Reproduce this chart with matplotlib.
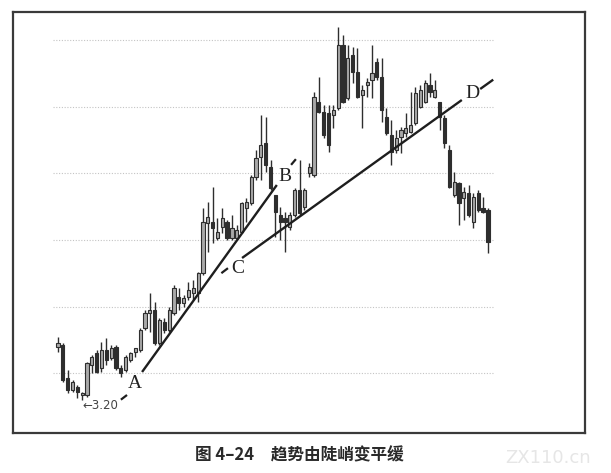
import matplotlib
matplotlib.use("Agg")
import matplotlib.pyplot as plt
from matplotlib.patches import Rectangle

# ---- data ----
opens = [3.52, 3.53, 3.33, 3.26, 3.28, 3.23, 3.23, 3.41, 3.48, 3.39,
         3.50, 3.45, 3.52, 3.39, 3.38, 3.44, 3.49, 3.50, 3.63, 3.72,
         3.74, 3.54, 3.67, 3.62, 3.72, 3.82, 3.78, 3.82, 3.84, 3.84,
         3.96, 4.26, 4.27, 4.17, 4.24, 4.27, 4.17, 4.17, 4.21, 4.35,
         4.38, 4.54, 4.66, 4.74, 4.60, 4.43, 4.31, 4.29, 4.24, 4.31,
         4.46, 4.36, 4.56, 4.55, 4.99, 4.93, 4.92, 4.91, 4.95, 5.33,
         5.01, 5.27, 5.17, 5.03, 5.09, 5.12, 5.23, 5.14, 4.90, 4.79,
         4.70, 4.78, 4.80, 4.81, 4.86, 4.96, 4.99, 5.09, 5.02, 4.99,
         4.89, 4.70, 4.43, 4.50, 4.41, 4.44, 4.27, 4.44, 4.35, 4.34]
highs = [3.58, 3.54, 3.38, 3.32, 3.29, 3.25, 3.43, 3.47, 3.50, 3.55,
         3.57, 3.53, 3.53, 3.41, 3.47, 3.49, 3.51, 3.63, 3.74, 3.84,
         3.79, 3.69, 3.69, 3.76, 3.89, 3.87, 3.83, 3.91, 3.92, 3.97,
         4.35, 4.39, 4.48, 4.29, 4.35, 4.28, 4.31, 4.25, 4.39, 4.41,
         4.55, 4.70, 4.91, 4.90, 4.64, 4.43, 4.36, 4.33, 4.33, 4.47,
         4.64, 4.47, 4.62, 5.05, 5.14, 4.97, 4.97, 4.97, 5.44, 5.39,
         5.33, 5.32, 5.31, 5.09, 5.13, 5.33, 5.25, 5.25, 4.95, 4.88,
         4.82, 4.84, 4.92, 5.05, 5.08, 5.09, 5.12, 5.16, 5.12, 4.99,
         4.91, 4.73, 4.57, 4.51, 4.48, 4.49, 4.44, 4.46, 4.42, 4.35]
lows = [3.49, 3.31, 3.24, 3.25, 3.21, 3.20, 3.22, 3.36, 3.36, 3.37,
        3.41, 3.44, 3.38, 3.34, 3.37, 3.43, 3.46, 3.49, 3.62, 3.61,
        3.53, 3.53, 3.60, 3.61, 3.71, 3.74, 3.76, 3.80, 3.80, 3.79,
        3.95, 4.09, 4.14, 4.16, 4.20, 4.16, 4.16, 4.16, 4.20, 4.27,
        4.37, 4.52, 4.52, 4.57, 4.46, 4.18, 4.16, 4.09, 4.22, 4.30,
        4.31, 4.34, 4.54, 4.54, 4.92, 4.77, 4.69, 4.83, 4.94, 4.98,
        5.00, 5.10, 5.01, 4.83, 5.02, 5.01, 5.12, 4.87, 4.79, 4.61,
        4.68, 4.68, 4.78, 4.80, 4.85, 4.95, 4.98, 5.02, 5.01, 4.82,
        4.71, 4.47, 4.42, 4.25, 4.28, 4.30, 4.23, 4.33, 4.32, 4.08]
closes = [3.54, 3.32, 3.26, 3.31, 3.25, 3.24, 3.42, 3.46, 3.37, 3.50,
          3.44, 3.51, 3.39, 3.36, 3.46, 3.48, 3.51, 3.62, 3.72, 3.74,
          3.54, 3.68, 3.62, 3.74, 3.87, 3.78, 3.81, 3.86, 3.87, 3.96,
          4.27, 4.30, 4.23, 4.21, 4.29, 4.17, 4.23, 4.22, 4.38, 4.39,
          4.54, 4.65, 4.73, 4.61, 4.47, 4.33, 4.27, 4.27, 4.31, 4.46,
          4.32, 4.46, 4.60, 5.02, 4.93, 4.79, 4.73, 4.94, 5.33, 4.99,
          5.25, 5.17, 5.02, 5.06, 5.11, 5.16, 5.14, 4.94, 4.80, 4.69,
          4.77, 4.82, 4.83, 4.85, 5.04, 5.06, 5.10, 5.05, 5.06, 4.90,
          4.74, 4.48, 4.51, 4.38, 4.45, 4.31, 4.42, 4.34, 4.33, 4.15]

grid_levels = [3.36, 3.76, 4.16, 4.56, 4.96, 5.36]
grid_span = [-1.0, 90.0]

# trend lines (bar index, price)
line_ab_x = [17.4, 45.3]
line_ab_y = [3.368, 4.49]
tick_a_x = [13.2, 14.1]
tick_a_y = [3.206, 3.226]
tick_b_x = [48.4, 49.1]
tick_b_y = [4.616, 4.640]
line_cd_x = [38.1, 83.6]
line_cd_y = [4.052, 5.00]
line_cd2_x = [87.4, 90.1]
line_cd2_y = [5.066, 5.122]
tick_c_x = [34.0, 35.0]
tick_c_y = [3.965, 3.987]

labels = ["A", "B", "C", "D"]
label_x = [15.9, 47.0, 37.3, 85.9]
label_y = [3.30, 4.54, 3.99, 5.04]

low_note = "←3.20"
low_note_pos = (5.0, 3.17)
caption = "图 4–24　趋势由陡峭变平缓"

# ---- figure ----
fig = plt.figure(figsize=(6.11, 4.73), dpi=100)
fig.patch.set_facecolor("white")
ax = fig.add_axes([13 / 611, 40 / 473, 572 / 611, 421 / 473])
ax.set_xlim(-9.32, 109.1)
ax.set_ylim(3.002, 5.528)
ax.set_xticks([])
ax.set_yticks([])
for s in ax.spines.values():
    s.set_color("#3a3a3a")
    s.set_linewidth(1.6)

for g in grid_levels:
    ax.plot(grid_span, [g, g], color="#c4c4c4", lw=0.8, ls=(0, (1, 1.5)), zorder=1)

up_face = "#a9a9a9"
dark = "#2e2e2e"
bw = 0.66
for i, (o, h, l, c) in enumerate(zip(opens, highs, lows, closes)):
    ax.plot([i, i], [l, h], color=dark, lw=1.0, zorder=2, solid_capstyle="butt")
    bottom = min(o, c)
    height = max(abs(c - o), 0.006)
    if c >= o:
        rect = Rectangle((i - bw / 2, bottom), bw, height, facecolor=up_face,
                         edgecolor=dark, lw=0.8, zorder=3)
    else:
        rect = Rectangle((i - bw / 2, bottom), bw, height, facecolor=dark,
                         edgecolor=dark, lw=0.8, zorder=3)
    ax.add_patch(rect)

lc = "#1e1e1e"
ax.plot(line_ab_x, line_ab_y, color=lc, lw=1.7, zorder=4, solid_capstyle="butt")
ax.plot(tick_a_x, tick_a_y, color=lc, lw=1.6, zorder=4)
ax.plot(tick_b_x, tick_b_y, color=lc, lw=1.6, zorder=4)
ax.plot(line_cd_x, line_cd_y, color=lc, lw=1.7, zorder=4, solid_capstyle="butt")
ax.plot(line_cd2_x, line_cd2_y, color=lc, lw=1.7, zorder=4, solid_capstyle="butt")
ax.plot(tick_c_x, tick_c_y, color=lc, lw=1.6, zorder=4)

for t, x, y in zip(labels, label_x, label_y):
    ax.text(x, y, t, family="Liberation Serif", fontsize=14, color="#222222",
            ha="center", va="center", zorder=5)

ax.text(low_note_pos[0], low_note_pos[1], low_note, family="DejaVu Sans",
        fontsize=8.5, color="#444444", ha="left", va="center", zorder=5)

fig.text(299 / 611, 1 - 455 / 473, caption,
         family=["Noto Sans CJK SC", "DejaVu Sans"], fontsize=12,
         fontweight="bold", color="#2a2a2a", ha="center", va="center")

fig.text(548 / 611, 1 - 458 / 473, "ZX110.cn", family="DejaVu Sans",
         fontsize=13, color="#e6e6e6", ha="center", va="center")

fig.savefig("out.png", dpi=100, facecolor="white")
